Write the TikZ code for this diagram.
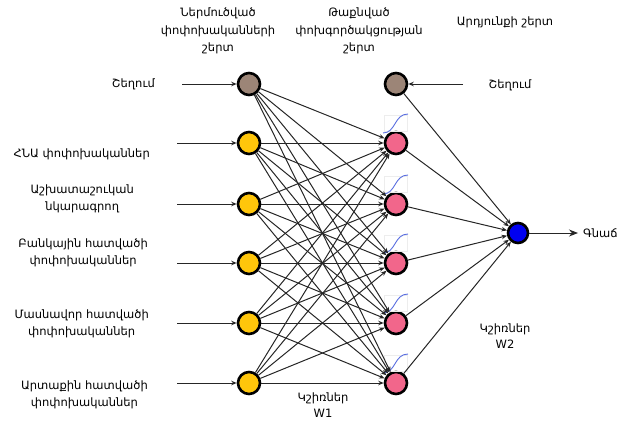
\documentclass[tikz,border=0pt]{standalone}
\usepackage{fontspec}
\setmainfont{DejaVu Sans}
\usetikzlibrary{arrows.meta}
\definecolor{biasc}{HTML}{9C8577}
\definecolor{inc}{HTML}{FFC60B}
\definecolor{hidc}{HTML}{F2668B}
\definecolor{outc}{HTML}{0000F0}
\definecolor{sigc}{HTML}{5B6FE0}
\definecolor{edgec}{HTML}{262626}
\begin{document}
\begin{tikzpicture}[x=1pt,y=-1pt,
  neuron/.style={circle,draw=black,line width=2.6pt,minimum size=22pt,inner sep=0pt},
  lbl/.style={font=\fontsize{11.5}{17.5}\selectfont,align=center,text=black,inner sep=0pt},
  conn/.style={draw=edgec,line width=1pt,-{Stealth[length=5.5pt,width=4.5pt]}},
  bigconn/.style={draw=edgec,line width=1pt,-{Stealth[length=9pt,width=7pt]}},
  sigbox/.style={draw=black!7,line width=0.5pt},
  sig/.style={draw=sigc,line width=0.9pt}]
\useasboundingbox (0,0) rectangle (620,420);
% neurons
\node[neuron,fill=biasc] (b1) at (249,84) {};
\node[neuron,fill=biasc] (b2) at (396,84) {};
\foreach \i/\y in {1/143,2/204,3/263,4/323,5/383} {
  \node[neuron,fill=inc] (i\i) at (249,\y) {};
  \node[neuron,fill=hidc] (h\i) at (396,\y) {};
  \draw[sigbox] (384,\y-28) rectangle (407,\y-12);
  \draw[sig] (383,\y-10) .. controls (396,\y-10) and (394,\y-29) .. (408,\y-29);
}
\node[neuron,fill=outc,minimum size=20pt] (o) at (518,233) {};
% connections
\foreach \s in {b1,i1,i2,i3,i4,i5} {
  \foreach \t in {h1,h2,h3,h4,h5} {
    \draw[conn] (\s) -- (\t);
  }
}
\foreach \s in {b2,h1,h2,h3,h4,h5} {
  \draw[conn] (\s) -- (o);
}
% input arrows
\coordinate (lb) at (182,84);
\draw[conn] (lb) -- (b1);
\foreach \i/\y in {1/143,2/204,3/263,4/323,5/383} {
  \coordinate (l\i) at (177,\y);
  \draw[conn] (l\i) -- (i\i);
}
\coordinate (rb) at (463,84);
\draw[conn] (rb) -- (b2);
\coordinate (oe) at (578,233);
\draw[bigconn] (o) -- (oe);
% labels
\node[lbl,anchor=east] (tb1) at (155,84) {Շեղում};
\node[lbl,anchor=east] (t1) at (150,154) {ՀՆԱ փոփոխականներ};
\node[lbl,anchor=east] (t2) at (134,199) {Աշխատաշուկան\\նկարագրող};
\node[lbl,anchor=east] (t3) at (148,253) {Բանկային հատվածի\\փոփոխականներ};
\node[lbl,anchor=east] (t4) at (149,324) {Մասնավոր հատվածի\\փոփոխականներ};
\node[lbl,anchor=east] (t5) at (148,395) {Արտաքին հատվածի\\փոփոխականներ};
\node[lbl] (hd1) at (218,31) {Ներմուծված\\փոփոխականների\\շերտ};
\node[lbl] (hd2) at (359,31) {Թաքնված\\փոխգործակցության\\շերտ};
\node[lbl] (hd3) at (505,22) {Արդյունքի շերտ};
\node[lbl] (tb2) at (510,85) {Շեղում};
\node[lbl,font=\fontsize{11.5}{16}\selectfont] (w1) at (323,405) {Կշիռներ\\W1};
\node[lbl,font=\fontsize{11.5}{16}\selectfont] (w2) at (505,336) {Կշիռներ\\W2};
\node[lbl,anchor=west] (out) at (583,233) {Գնաճ};
\end{tikzpicture}
\end{document}
